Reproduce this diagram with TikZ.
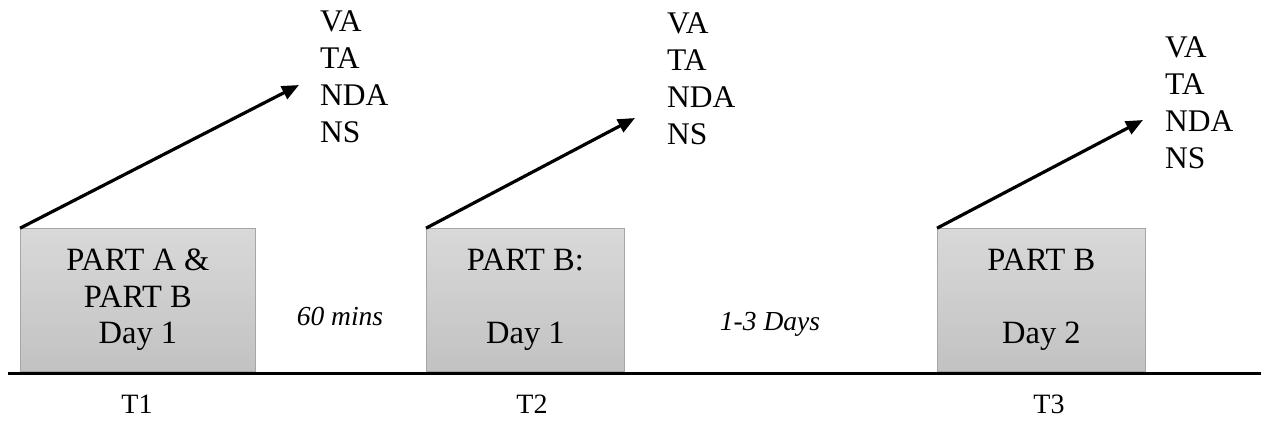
\documentclass[tikz,border=0pt]{standalone}
\usepackage{fontspec}
\setmainfont{Liberation Serif}
\usetikzlibrary{arrows.meta}
\begin{document}
\begin{tikzpicture}[x=1bp,y=-1bp,
  stagebox/.style={draw=black!35, line width=0.8bp, top color=black!15, bottom color=black!24,
    anchor=south west, inner sep=0pt, minimum height=143bp, align=center,
    font=\fontsize{32.5bp}{36.5bp}\selectfont},
  measure/.style={anchor=north west, inner sep=0pt, align=left,
    font=\fontsize{31.5bp}{37bp}\selectfont},
  gap/.style={anchor=base, inner sep=0pt, font=\fontsize{27.5bp}{33bp}\selectfont\itshape},
  tlabel/.style={anchor=base, inner sep=0pt, font=\fontsize{28bp}{33bp}\selectfont},
  arr/.style={line width=3.2bp, -{Triangle[length=17bp,width=14bp]}},
  axis/.style={line width=3.3bp}]
\useasboundingbox (0,0) rectangle (1261,423);
% timeline
\coordinate (L) at (8,373.5);
\coordinate (R) at (1261,373.5);
\draw[axis] (L) -- (R);
% boxes
\node[stagebox, minimum width=235bp] (b1) at (20,372) {PART A \&\\PART B\\Day 1};
\node[stagebox, minimum width=198bp] (b2) at (426,372) {PART B:\\[36.5bp]Day 1};
\node[stagebox, minimum width=208bp] (b3) at (937,372) {PART B\\[36.5bp]Day 2};
% measure lists
\node[measure] (m1) at (320,10) {VA\\TA\\NDA\\NS};
\node[measure] (m2) at (667,12) {VA\\TA\\NDA\\NS};
\node[measure] (m3) at (1165,36) {VA\\TA\\NDA\\NS};
% arrow tips
\coordinate (t1) at (299,85);
\coordinate (t2) at (635,118);
\coordinate (t3) at (1143,120);
\draw[arr] (b1.north west) -- (t1);
\draw[arr] (b2.north west) -- (t2);
\draw[arr] (b3.north west) -- (t3);
% gaps
\node[gap] (g1) at (340,325) {60 mins};
\node[gap] (g2) at (770,330) {1-3 Days};
% time labels
\node[tlabel] (T1) at (137,413) {T1};
\node[tlabel] (T2) at (532,413) {T2};
\node[tlabel] (T3) at (1049,413) {T3};
\end{tikzpicture}
\end{document}
